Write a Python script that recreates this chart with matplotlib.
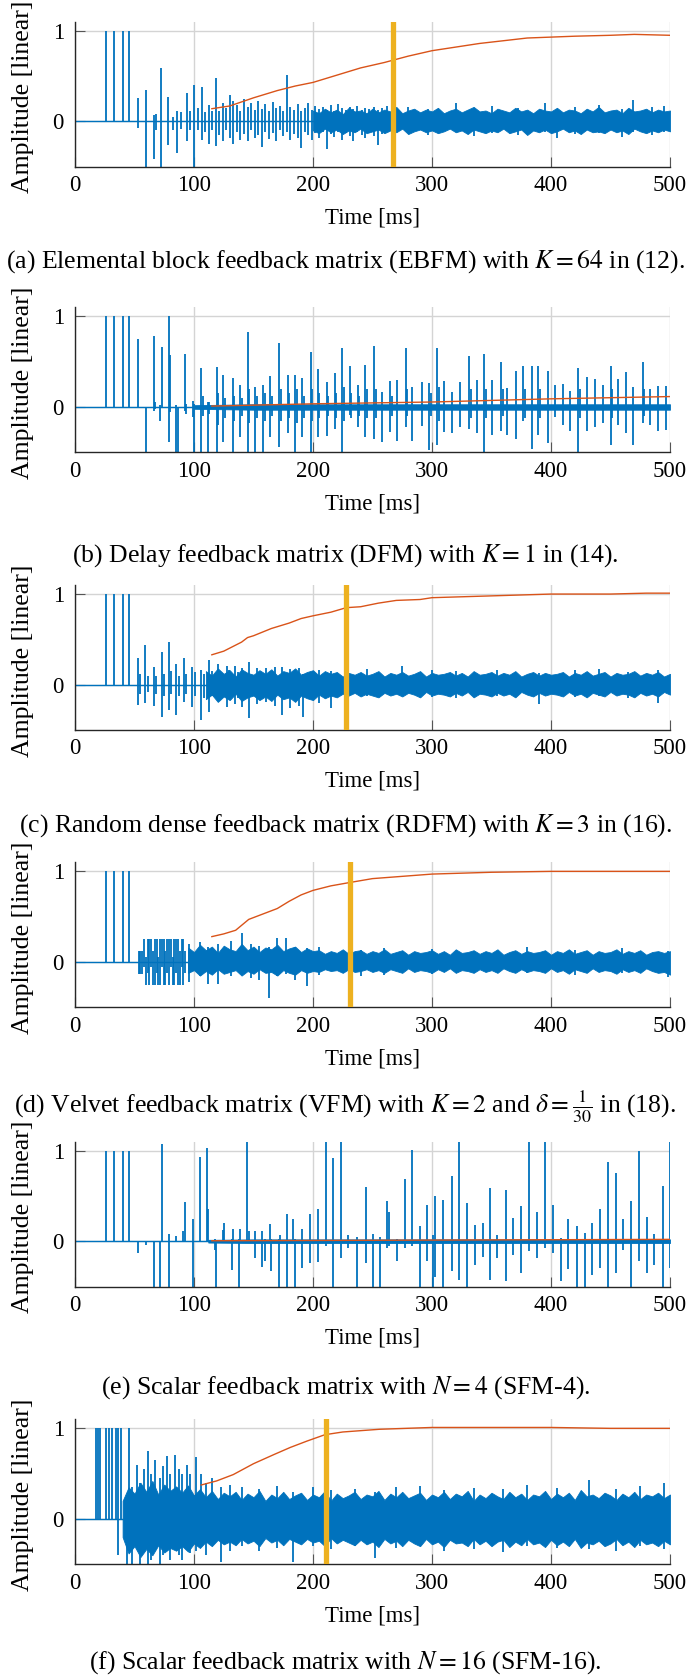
import matplotlib
matplotlib.use("Agg")
import matplotlib.pyplot as plt

plt.rcParams['font.family'] = ['Liberation Serif', 'DejaVu Serif']
plt.rcParams['mathtext.fontset'] = 'stix'

BLUE = '#0072BD'
ORANGE = '#D95319'
YELLOW = '#EDB120'

# ---------------- data ----------------
xticks = [0, 100, 200, 300, 400, 500]
yticks = [0, 1]

captions = [
    r'(a) Elemental block feedback matrix (EBFM) with $K=64$ in (12).',
    r'(b) Delay feedback matrix (DFM) with $K=1$ in (14).',
    r'(c) Random dense feedback matrix (RDFM) with $K=3$ in (16).',
    r'(d) Velvet feedback matrix (VFM) with $K=2$ and $\delta=\frac{1}{30}$ in (18).',
    r'(e) Scalar feedback matrix with $N=4$ (SFM-4).',
    r'(f) Scalar feedback matrix with $N=16$ (SFM-16).',
]

# mixing time markers [ms] (None = not shown)
mix_times = [267, None, 228, 231, None, 211]

# ---- (a) EBFM ----
a_t = [26, 33, 40, 45, 52.7, 59.9, 66.6, 68, 72.3, 78.4, 82, 85.4, 89, 93.8, 97, 100, 103, 106.5, 109, 112.6,
       115, 118.5, 121, 124, 127, 130, 133, 136, 139, 142, 145, 148, 151, 154, 157, 160, 163, 166, 169, 172,
       175, 178, 181, 184, 187, 190, 193, 196, 199, 202, 205, 208, 212, 215, 218, 221, 224, 228, 231, 234,
       237, 241, 244, 247, 251, 255, 258, 262, 280, 297, 320, 335, 350, 372, 395, 405, 420, 440, 460, 469,
       485, 495]
a_lo = [0, 0, 0, 0, -0.07, -0.5, -0.42, -0.1, -0.5, -0.26, -0.1, -0.35, -0.08, -0.22, -0.1, -0.5, -0.1, -0.20, -0.12, -0.25,
        -0.1, -0.27, -0.15, -0.22, -0.10, -0.18, -0.25, -0.12, -0.20, -0.14, -0.22, -0.10, -0.18, -0.15, -0.28, -0.12, -0.19, -0.13, -0.22, -0.10,
        -0.16, -0.12, -0.20, -0.14, -0.18, -0.29, -0.12, -0.15, -0.20, -0.13, -0.18, -0.12, -0.30, -0.14, -0.17, -0.12, -0.20, -0.13, -0.16, -0.22,
        -0.12, -0.15, -0.18, -0.13, -0.16, -0.26, -0.14, -0.12, -0.12, -0.15, -0.12, -0.16, -0.13, -0.15, -0.12, -0.18, -0.14, -0.13, -0.17, -0.12,
        -0.15, -0.12]
a_hi = [1, 1, 1, 1, 0.26, 0.35, 0.07, 0.08, 0.59, 0.27, 0.05, 0.12, 0.10, 0.31, 0.12, 0.40, 0.15, 0.38, 0.10, 0.18,
        0.12, 0.48, 0.12, 0.20, 0.15, 0.29, 0.22, 0.18, 0.12, 0.25, 0.16, 0.20, 0.13, 0.22, 0.14, 0.19, 0.12, 0.21, 0.15, 0.17,
        0.12, 0.51, 0.16, 0.13, 0.19, 0.12, 0.15, 0.20, 0.13, 0.17, 0.14, 0.16, 0.13, 0.18, 0.12, 0.19, 0.15, 0.13, 0.16, 0.14,
        0.17, 0.13, 0.15, 0.14, 0.16, 0.13, 0.15, 0.17, 0.16, 0.14, 0.20, 0.14, 0.17, 0.15, 0.20, 0.13, 0.16, 0.18, 0.14, 0.24,
        0.16, 0.17]
a_band_t = list(range(200, 501, 5))
a_band_hi = [0.12, 0.09, 0.14, 0.10, 0.13, 0.08, 0.15, 0.11, 0.12, 0.09,
             0.14, 0.10, 0.13, 0.11, 0.16, 0.09, 0.12, 0.14, 0.10, 0.13,
             0.11, 0.15, 0.09, 0.12, 0.14, 0.10, 0.13, 0.16, 0.11, 0.12,
             0.09, 0.14, 0.12, 0.10, 0.15, 0.11, 0.13, 0.09, 0.14, 0.12,
             0.11, 0.15, 0.10, 0.13, 0.12, 0.09, 0.14, 0.11, 0.16, 0.10,
             0.12, 0.13, 0.09, 0.15, 0.11, 0.12, 0.14, 0.10, 0.13, 0.11,
             0.12]
a_band_lo = [-0.10, -0.13, -0.08, -0.12, -0.09, -0.14, -0.10, -0.12, -0.08, -0.13,
             -0.11, -0.09, -0.13, -0.10, -0.12, -0.08, -0.14, -0.11, -0.09, -0.12,
             -0.10, -0.13, -0.11, -0.08, -0.12, -0.10, -0.14, -0.09, -0.11, -0.13,
             -0.10, -0.12, -0.08, -0.13, -0.11, -0.09, -0.15, -0.10, -0.12, -0.09,
             -0.13, -0.11, -0.08, -0.12, -0.10, -0.14, -0.09, -0.12, -0.11, -0.13,
             -0.09, -0.12, -0.10, -0.14, -0.08, -0.11, -0.13, -0.10, -0.12, -0.09,
             -0.11]
a_edc_t = [115, 130, 150, 170, 185, 200, 220, 240, 260, 280, 300, 320, 340, 360, 380, 400, 420, 450, 470, 500]
a_edc_v = [0.14, 0.17, 0.26, 0.34, 0.39, 0.43, 0.51, 0.59, 0.65, 0.72, 0.78, 0.82, 0.86, 0.89, 0.92, 0.93, 0.94, 0.95, 0.96, 0.95]

# ---- (b) DFM ----
b_t = [26, 33, 40, 45, 52.7, 60, 66.1, 67.5, 71.4, 72.8, 78.7, 79.8, 84.9, 86.3, 92.4, 93.5, 98.9, 100.3, 105.9, 107.2,
       111.8, 113, 119, 120.3, 124.6, 126, 132.5, 133.8, 139, 140.3, 145.1, 146.4, 151.3, 152.6, 158.2, 159.5, 163.9, 165.2, 171.7, 173,
       178.7, 180, 184.9, 186.2, 191, 192.3, 198, 199.3, 204, 205.3, 211.5, 212.8, 218.2, 219.5, 224.6, 225.9, 231, 232.3, 237.5, 238.8,
       243.7, 245, 251.5, 252.8, 258.3, 264.7, 266, 270.3, 277.9, 279.2, 283.5, 291.3, 297.8, 299.1, 304.5, 305.8, 310.1, 316.6, 323.5, 331.4,
       332.7, 337.5, 343.7, 345, 350.2, 358, 359.3, 362.7, 370.6, 376.7, 378, 384.3, 389.3, 390.6, 397.7, 403.3, 410.3, 415.9, 422.9, 424.2,
       429.9, 436.9, 443.9, 450, 451.3, 456.5, 462.7, 468.5, 476.9, 478.2, 483.1, 490.1, 496.5]
b_lo = [0, 0, 0, 0, 0, -0.5, -0.04, -0.02, -0.15, 0, -0.39, -0.05, -0.5, -0.5, -0.04, -0.08, -0.11, -0.5, -0.5, -0.10,
        -0.5, -0.08, -0.5, -0.20, -0.39, -0.12, -0.5, -0.15, -0.33, -0.10, -0.5, -0.18, -0.5, -0.12, -0.5, -0.15, -0.33, -0.10, -0.44, -0.15,
        -0.29, -0.12, -0.5, -0.18, -0.33, -0.12, -0.5, -0.15, -0.33, -0.12, -0.32, -0.10, -0.24, -0.12, -0.5, -0.15, -0.09, -0.12, -0.22, -0.10,
        -0.33, -0.12, -0.35, -0.12, -0.39, -0.28, -0.10, -0.38, -0.22, -0.10, -0.37, -0.21, -0.48, -0.10, -0.42, -0.15, -0.28, -0.29, -0.22, -0.24,
        -0.12, -0.29, -0.5, -0.12, -0.31, -0.26, -0.10, -0.31, -0.35, -0.16, -0.12, -0.46, -0.31, -0.12, -0.40, -0.11, -0.20, -0.26, -0.5, -0.12,
        -0.26, -0.22, -0.18, -0.42, -0.12, -0.20, -0.29, -0.42, -0.18, -0.10, -0.20, -0.26, -0.25]
b_hi = [1, 1, 1, 1, 0.75, 0, 0.78, 0.05, 0.02, 0.66, 1.0, 0.57, 0.02, 0, 0.59, 0.03, 0.07, 0.03, 0.43, 0.12,
        0.05, 0.06, 0.44, 0.15, 0.35, 0.10, 0.32, 0.12, 0.24, 0.10, 0.83, 0.20, 0.22, 0.12, 0.24, 0.15, 0.34, 0.12, 0.71, 0.20,
        0.35, 0.15, 0.35, 0.20, 0.32, 0.12, 0.61, 0.20, 0.42, 0.15, 0.28, 0.12, 0.37, 0.15, 0.65, 0.22, 0.45, 0.15, 0.24, 0.12,
        0.46, 0.20, 0.67, 0.20, 0.17, 0.29, 0.12, 0.30, 0.65, 0.20, 0.22, 0.28, 0.27, 0.15, 0.65, 0.22, 0.29, 0.17, 0.28, 0.56,
        0.20, 0.30, 0.58, 0.20, 0.30, 0.50, 0.20, 0.21, 0.40, 0.45, 0.20, 0.45, 0.45, 0.20, 0.40, 0.24, 0.25, 0.18, 0.43, 0.20,
        0.33, 0.31, 0.24, 0.45, 0.20, 0.31, 0.39, 0.22, 0.50, 0.20, 0.20, 0.23, 0.23]
b_band_t = [100, 150, 200, 250, 300, 350, 400, 450, 500]
b_band_hi = [0.02, 0.03, 0.03, 0.03, 0.03, 0.03, 0.03, 0.03, 0.03]
b_band_lo = [-0.02, -0.03, -0.03, -0.03, -0.03, -0.03, -0.03, -0.03, -0.03]
b_edc_t = [115, 200, 300, 400, 500]
b_edc_v = [0.01, 0.035, 0.055, 0.09, 0.115]

# ---- (c) RDFM ----
c_t = [26, 33, 40, 45, 53, 55, 59, 61, 66.5, 68, 72.7, 74.5, 79.4, 81, 85, 87, 91.6, 93.5, 98.6, 100.5,
       106, 108, 113, 115, 120, 122, 127.4, 129.5, 134.8, 137, 140, 146.6, 153, 160.6, 168, 173.6, 181, 188, 192, 205,
       215, 245, 275, 300, 320, 355, 390, 420, 440, 465, 490]
c_lo = [0, 0, 0, 0, -0.22, -0.10, -0.20, -0.08, -0.24, -0.10, -0.36, -0.12, -0.28, -0.10, -0.33, -0.12, -0.19, -0.10, -0.25, -0.12,
        -0.39, -0.15, -0.30, -0.12, -0.18, -0.14, -0.25, -0.12, -0.21, -0.15, -0.25, -0.37, -0.21, -0.19, -0.23, -0.34, -0.26, -0.23, -0.36, -0.20,
        -0.26, -0.12, -0.13, -0.14, -0.15, -0.12, -0.21, -0.14, -0.12, -0.15, -0.20]
c_hi = [1, 1, 1, 1, 0.29, 0.12, 0.44, 0.10, 0.19, 0.10, 0.36, 0.12, 0.47, 0.15, 0.23, 0.10, 0.29, 0.12, 0.19, 0.14,
        0.16, 0.12, 0.27, 0.15, 0.23, 0.15, 0.21, 0.16, 0.21, 0.14, 0.18, 0.25, 0.18, 0.18, 0.19, 0.19, 0.17, 0.18, 0.12, 0.16,
        0.15, 0.17, 0.21, 0.16, 0.15, 0.16, 0.13, 0.16, 0.17, 0.14, 0.16]
c_band_t = list(range(110, 501, 5))
c_band_hi = [0.15, 0.10, 0.18, 0.12, 0.16, 0.09, 0.17, 0.13, 0.11, 0.16,
             0.12, 0.17, 0.10, 0.15, 0.13, 0.18, 0.11, 0.14, 0.16, 0.10,
             0.15, 0.12, 0.14, 0.09, 0.13, 0.11, 0.14, 0.10, 0.12, 0.15,
             0.09, 0.13, 0.11, 0.14, 0.10, 0.12, 0.15, 0.09, 0.13, 0.11,
             0.12, 0.14, 0.10, 0.13, 0.09, 0.15, 0.11, 0.12, 0.14, 0.10,
             0.13, 0.11, 0.15, 0.09, 0.12, 0.14, 0.10, 0.13, 0.11, 0.12,
             0.14, 0.09, 0.13, 0.11, 0.15, 0.10, 0.12, 0.14, 0.09, 0.13,
             0.11, 0.12, 0.15, 0.10, 0.13, 0.11, 0.14, 0.09, 0.12]
c_band_lo = [-0.16, -0.11, -0.19, -0.13, -0.17, -0.10, -0.18, -0.14, -0.12, -0.17,
             -0.13, -0.18, -0.11, -0.16, -0.14, -0.19, -0.12, -0.15, -0.17, -0.11,
             -0.15, -0.12, -0.14, -0.10, -0.12, -0.09, -0.13, -0.10, -0.12, -0.14,
             -0.09, -0.12, -0.10, -0.13, -0.09, -0.11, -0.14, -0.08, -0.12, -0.10,
             -0.11, -0.13, -0.09, -0.12, -0.08, -0.14, -0.10, -0.11, -0.13, -0.09,
             -0.12, -0.10, -0.14, -0.08, -0.11, -0.13, -0.09, -0.12, -0.10, -0.11,
             -0.13, -0.08, -0.12, -0.10, -0.14, -0.09, -0.11, -0.13, -0.08, -0.12,
             -0.10, -0.11, -0.14, -0.09, -0.12, -0.10, -0.13, -0.08, -0.11]
c_edc_t = [115, 125, 140, 145, 150, 165, 180, 190, 200, 215, 228, 240, 255, 270, 290, 300, 350, 400, 450, 480, 500]
c_edc_v = [0.33, 0.37, 0.47, 0.52, 0.54, 0.62, 0.68, 0.73, 0.76, 0.80, 0.85, 0.86, 0.90, 0.93, 0.94, 0.96, 0.98, 1.0, 1.0, 1.01, 1.01]

# ---- (d) VFM ----
d_t = [26, 33, 40, 45, 53.5, 55, 56.5, 58, 59.5, 61, 62.5, 64, 65.5, 67, 68.5, 70, 71.5, 73, 74.5, 76,
       77.5, 79, 80.5, 82, 83.5, 85, 86.5, 88, 89.5, 91, 92.5, 96, 105, 112, 120, 131, 140, 148, 155, 163,
       170, 177, 185, 195, 205, 240, 260, 300, 380, 420, 460, 498]
d_lo = [0, 0, 0, 0, -0.13, -0.13, -0.13, -0.05, -0.25, -0.12, -0.25, -0.05, -0.25, -0.25, -0.12, -0.25, -0.25, -0.05, -0.25, -0.25,
        -0.12, -0.25, -0.05, -0.25, -0.25, -0.12, -0.25, -0.25, -0.05, -0.25, -0.12, -0.22, -0.15, -0.24, -0.24, -0.15, -0.13, -0.18, -0.20, -0.40,
        -0.16, -0.13, -0.20, -0.26, -0.14, -0.16, -0.14, -0.13, -0.12, -0.14, -0.12, -0.17]
d_hi = [1, 1, 1, 1, 0.12, 0.12, 0.12, 0.25, 0.05, 0.25, 0.25, 0.25, 0.12, 0.25, 0.25, 0.05, 0.25, 0.25, 0.25, 0.12,
        0.25, 0.25, 0.25, 0.05, 0.25, 0.25, 0.25, 0.12, 0.25, 0.25, 0.12, 0.20, 0.22, 0.17, 0.20, 0.23, 0.32, 0.20, 0.18, 0.16,
        0.26, 0.26, 0.16, 0.15, 0.17, 0.13, 0.15, 0.14, 0.17, 0.13, 0.15, 0.12]
d_band_t = list(range(95, 501, 5))
d_band_hi = [0.16, 0.11, 0.19, 0.13, 0.17, 0.10, 0.18, 0.14, 0.12, 0.20,
             0.13, 0.17, 0.11, 0.16, 0.14, 0.19, 0.12, 0.15, 0.17, 0.11,
             0.15, 0.12, 0.13, 0.09, 0.12, 0.10, 0.14, 0.09, 0.12, 0.13,
             0.09, 0.12, 0.10, 0.14, 0.09, 0.11, 0.13, 0.08, 0.12, 0.10,
             0.11, 0.13, 0.09, 0.12, 0.08, 0.14, 0.10, 0.11, 0.13, 0.09,
             0.12, 0.10, 0.14, 0.08, 0.11, 0.13, 0.09, 0.12, 0.10, 0.11,
             0.13, 0.08, 0.12, 0.10, 0.14, 0.09, 0.11, 0.13, 0.08, 0.12,
             0.10, 0.11, 0.14, 0.09, 0.12, 0.10, 0.13, 0.08, 0.11, 0.12,
             0.10, 0.12]
d_band_lo = [-0.12, -0.09, -0.15, -0.10, -0.14, -0.08, -0.13, -0.11, -0.09, -0.15,
             -0.10, -0.13, -0.08, -0.12, -0.11, -0.15, -0.09, -0.12, -0.14, -0.09,
             -0.12, -0.10, -0.11, -0.08, -0.10, -0.09, -0.12, -0.08, -0.11, -0.10,
             -0.08, -0.11, -0.09, -0.12, -0.08, -0.10, -0.12, -0.07, -0.11, -0.09,
             -0.10, -0.12, -0.08, -0.11, -0.07, -0.12, -0.09, -0.10, -0.12, -0.08,
             -0.11, -0.09, -0.12, -0.07, -0.10, -0.12, -0.08, -0.11, -0.09, -0.10,
             -0.12, -0.07, -0.11, -0.09, -0.13, -0.08, -0.10, -0.12, -0.07, -0.11,
             -0.09, -0.10, -0.13, -0.08, -0.11, -0.09, -0.12, -0.07, -0.10, -0.12,
             -0.11, -0.14]
d_edc_t = [115, 125, 135, 146, 160, 170, 180, 190, 200, 215, 230, 250, 270, 300, 350, 400, 450, 500]
d_edc_v = [0.28, 0.31, 0.35, 0.47, 0.54, 0.59, 0.67, 0.74, 0.79, 0.84, 0.875, 0.92, 0.94, 0.97, 0.99, 1.0, 1.0, 1.0]

# ---- (e) SFM-4 ----
e_t = [26, 33, 40, 45, 52.7, 59.7, 66.4, 71.4, 72.8, 78.7, 84.9, 91, 92.4, 98.9, 105, 111.2, 112, 117.6, 118.5, 124,
       125.5, 131.7, 132.5, 137.8, 138.5, 144.3, 146, 151.3, 156.9, 159.7, 163.9, 165, 171.4, 172, 177.9, 183.5, 185, 190.5, 197.5, 204.5,
       210.6, 217, 223.5, 229.7, 236.7, 244.5, 250.2, 256.3, 261.9, 264.1, 270.3, 277.3, 282.9, 289.9, 295.6, 300.6, 302.5, 309, 316.6, 323,
       329.2, 336.2, 342.7, 348.8, 355, 362.2, 368.4, 374.8, 381.8, 388, 395, 401.4, 408.4, 414.6, 421.6, 428.6, 434.8, 441.2, 448.2, 454.6,
       460.8, 467, 473.7, 480.4, 486.6, 494.4, 500]
e_lo = [0, 0, 0, 0, -0.13, -0.04, -0.5, -0.5, 0, -0.5, 0, 0, 0, -0.5, 0, 0, 0, -0.10, -0.5, 0,
        0, -0.32, 0, -0.5, 0, 0, 0, -0.18, -0.28, -0.22, 0, -0.33, -0.5, 0, -0.5, 0, -0.5, -0.30, -0.24, -0.23,
        -0.05, -0.5, -0.19, -0.08, -0.5, -0.24, -0.5, -0.5, -0.08, -0.05, -0.22, -0.08, -0.05, -0.5, -0.22, -0.5, -0.39, -0.5, -0.33, -0.43,
        -0.5, -0.26, -0.17, -0.43, -0.19, -0.44, -0.15, -0.35, -0.11, -0.19, -0.08, -0.13, -0.44, -0.31, -0.5, -0.5, -0.37, -0.30, -0.5, -0.35,
        -0.10, -0.5, -0.22, -0.35, -0.26, -0.5, -0.30]
e_hi = [1, 1, 1, 1, 0, 0, 0, 0, 1.07, 0.08, 0.06, 0.11, 0.43, 0.24, 0.93, 1.03, 0.36, 0.02, 0, 0.12,
        0.20, 0.02, 0.14, 0.02, 0.14, 1.15, 0.11, 0.11, 0.11, 0.02, 0.19, 0.02, 0.02, 0.07, 0.30, 0.25, 0.02, 0.13, 0.30, 0.35,
        1.15, 0.92, 1.15, 0.07, 0.05, 0.60, 0.08, 0.05, 0.44, 0.32, 0.02, 0.69, 1.01, 0.17, 0.40, 0.07, 0.50, 0.46, 0.72, 1.15,
        0.42, 0.18, 0.20, 0.59, 0.07, 0.56, 0.26, 0.39, 1.15, 0.32, 1.15, 0.40, 0.03, 0.25, 0.17, 0.09, 0.20, 0.36, 0.87, 0.75,
        0.25, 0.44, 1.00, 0.27, 0.08, 0.61, 1.09]
e_band_t = [112, 150, 200, 250, 300, 350, 400, 450, 500]
e_band_hi = [0.015, 0.02, 0.02, 0.02, 0.02, 0.02, 0.02, 0.02, 0.02]
e_band_lo = [-0.015, -0.02, -0.02, -0.02, -0.02, -0.02, -0.02, -0.02, -0.02]
e_edc_t = [115, 200, 300, 400, 500]
e_edc_v = [0.005, 0.008, 0.012, 0.016, 0.02]

# ---- (f) SFM-16 ----
f_t = [17.4, 19.1, 21, 25.8, 28.6, 30.8, 34.5, 35.9, 36.4, 38.6, 43.4, 45.4, 48, 51.8, 55, 58, 61.7, 64, 67, 71.4,
       74, 77, 80, 84, 87, 90, 94, 97, 102, 106, 110, 115, 123, 130, 140, 155, 170, 183.5, 200, 215,
       235, 252, 270, 290, 310, 335, 360, 380, 405, 432, 455, 475, 495]
f_lo = [0, 0, 0, 0, 0, 0, 0, -0.40, 0, 0, -0.5, 0, -0.5, -0.30, -0.5, -0.35, -0.5, -0.45, -0.30, -0.5,
        -0.40, -0.35, -0.45, -0.30, -0.40, -0.45, -0.30, -0.38, -0.35, -0.30, -0.40, -0.30, -0.47, -0.35, -0.30, -0.35, -0.32, -0.47, -0.30, -0.33,
        -0.30, -0.43, -0.32, -0.30, -0.35, -0.33, -0.36, -0.30, -0.32, -0.33, -0.35, -0.30, -0.33]
f_hi = [1, 1, 1, 1, 1, 1, 1, 0, 1, 1, 0, 1, 0.35, 0.60, 0.40, 0.55, 0.75, 0.50, 0.65, 0.45,
        0.58, 0.70, 0.50, 0.71, 0.55, 0.50, 0.60, 0.50, 0.68, 0.50, 0.40, 0.45, 0.35, 0.38, 0.35, 0.33, 0.36, 0.30, 0.35, 0.32,
        0.33, 0.30, 0.35, 0.36, 0.32, 0.34, 0.33, 0.38, 0.34, 0.43, 0.33, 0.36, 0.40]
f_band_t = list(range(40, 501, 5))
f_band_hi = [0.20, 0.35, 0.28, 0.40, 0.30, 0.42, 0.27, 0.38, 0.31, 0.36,
             0.29, 0.37, 0.26, 0.33, 0.24, 0.31, 0.22, 0.29, 0.25, 0.30,
             0.21, 0.28, 0.24, 0.31, 0.20, 0.27, 0.23, 0.30, 0.22, 0.26,
             0.29, 0.21, 0.27, 0.24, 0.31, 0.20, 0.28, 0.23, 0.26, 0.30,
             0.22, 0.27, 0.25, 0.31, 0.21, 0.28, 0.24, 0.30, 0.23, 0.26,
             0.29, 0.21, 0.27, 0.24, 0.30, 0.22, 0.28, 0.25, 0.31, 0.20,
             0.27, 0.23, 0.29, 0.25, 0.22, 0.30, 0.24, 0.28, 0.21, 0.27,
             0.25, 0.31, 0.22, 0.28, 0.24, 0.29, 0.21, 0.32, 0.25, 0.27,
             0.23, 0.29, 0.26, 0.21, 0.28, 0.24, 0.30, 0.22, 0.27, 0.25,
             0.29, 0.23, 0.27]
f_band_lo = [-0.20, -0.38, -0.30, -0.42, -0.33, -0.40, -0.29, -0.37, -0.32, -0.35,
             -0.30, -0.36, -0.27, -0.32, -0.25, -0.30, -0.23, -0.28, -0.25, -0.29,
             -0.22, -0.27, -0.24, -0.30, -0.21, -0.26, -0.23, -0.29, -0.22, -0.25,
             -0.28, -0.22, -0.26, -0.24, -0.30, -0.21, -0.27, -0.23, -0.26, -0.29,
             -0.23, -0.28, -0.25, -0.31, -0.22, -0.27, -0.24, -0.30, -0.23, -0.27,
             -0.30, -0.22, -0.28, -0.25, -0.31, -0.23, -0.27, -0.26, -0.30, -0.22,
             -0.28, -0.24, -0.30, -0.25, -0.23, -0.31, -0.25, -0.29, -0.22, -0.28,
             -0.26, -0.31, -0.23, -0.29, -0.25, -0.30, -0.22, -0.32, -0.26, -0.28,
             -0.24, -0.30, -0.27, -0.22, -0.29, -0.25, -0.31, -0.23, -0.28, -0.26,
             -0.30, -0.24, -0.28]
f_edc_t = [106, 119, 133, 150, 167, 181, 195, 210, 225, 256, 300, 350, 400, 450, 500]
f_edc_v = [0.375, 0.42, 0.49, 0.61, 0.71, 0.79, 0.86, 0.93, 0.96, 0.99, 1.01, 1.01, 1.01, 1.0, 1.0]

panels = [
    (a_t, a_lo, a_hi, a_band_t, a_band_lo, a_band_hi, a_edc_t, a_edc_v),
    (b_t, b_lo, b_hi, b_band_t, b_band_lo, b_band_hi, b_edc_t, b_edc_v),
    (c_t, c_lo, c_hi, c_band_t, c_band_lo, c_band_hi, c_edc_t, c_edc_v),
    (d_t, d_lo, d_hi, d_band_t, d_band_lo, d_band_hi, d_edc_t, d_edc_v),
    (e_t, e_lo, e_hi, e_band_t, e_band_lo, e_band_hi, e_edc_t, e_edc_v),
    (f_t, f_lo, f_hi, f_band_t, f_band_lo, f_band_hi, f_edc_t, f_edc_v),
]

# ---------------- layout (pixels of the 691x1676 figure) ----------------
W, H = 691, 1676
ax_left, ax_right = 75, 670
ax_bottoms = [166.7, 452.3, 730, 1007.3, 1286.5, 1564.3]
ax_h = 145
cap_y = [262, 556, 826, 1107, 1388, 1663]

fig = plt.figure(figsize=(W / 100, H / 100), dpi=100)

for i, (st, slo, shi, bt, blo, bhi, et, ev) in enumerate(panels):
    ax = fig.add_axes([ax_left / W, 1 - ax_bottoms[i] / H, (ax_right - ax_left) / W, ax_h / H])
    ax.set_xlim(0, 500)
    ax.set_ylim(-0.5, 1.1)

    ax.grid(True, color='#d4d4d4', linewidth=1.0, zorder=0)
    ax.set_axisbelow(True)

    # signal: zero baseline, dense part as band, individual pulses as lines
    ax.axhline(0, color=BLUE, linewidth=1.0, zorder=2)
    ax.fill_between(bt, blo, bhi, color=BLUE, linewidth=0.6, zorder=2)
    ax.vlines(st, slo, shi, color=BLUE, linewidth=1.3, zorder=2)

    ax.plot(et, ev, color=ORANGE, linewidth=1.0, zorder=4)
    if mix_times[i] is not None:
        ax.axvline(mix_times[i], color=YELLOW, linewidth=3.8, zorder=5)

    for side in ['top', 'right']:
        ax.spines[side].set_visible(False)
    for side in ['left', 'bottom']:
        ax.spines[side].set_linewidth(1.0)
        ax.spines[side].set_color('#262626')

    ax.set_xticks(xticks)
    ax.set_yticks(yticks)
    ax.tick_params(direction='in', length=7, width=0.8, color='#555555',
                   labelsize=16.5, labelcolor='black')
    ax.tick_params(axis='x', pad=6)
    ax.tick_params(axis='y', pad=8)

    ax.set_xlabel('Time [ms]', fontsize=16.5)
    ax.xaxis.set_label_coords(0.5, -0.355)
    ax.xaxis.label.set_va('center')
    ax.set_ylabel('Amplitude [linear]', fontsize=18.5)
    ax.yaxis.set_label_coords(-0.088, 0.48)
    ax.yaxis.label.set_va('center')

    fig.text(0.5, 1 - cap_y[i] / H, captions[i], ha='center', va='center', fontsize=18.5)

fig.savefig('out.png', dpi=100)
